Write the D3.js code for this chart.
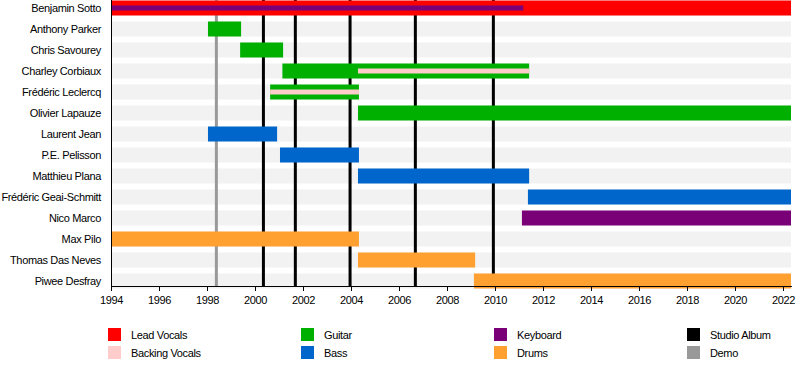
<!DOCTYPE html>
<html lang="en"><head>
<meta charset="utf-8">
<title>Band timeline</title>
<script src="https://d3js.org/d3.v7.min.js"></script>
<style>
  body { margin: 0; background: #fff; }
  svg text { font-family: "Liberation Sans", Arial, sans-serif; font-size: 11px; fill: #000; letter-spacing: -0.35px; }
  .axis path, .axis line { stroke: #000; shape-rendering: crispEdges; }
</style>
<script>
  const members = ["Benjamin Sotto", "Anthony Parker", "Chris Savourey", "Charley Corbiaux",
    "Frédéric Leclercq", "Olivier Lapauze", "Laurent Jean", "P.E. Pelisson", "Matthieu Plana",
    "Frédéric Geai-Schmitt", "Nico Marco", "Max Pilo", "Thomas Das Neves", "Piwee Desfray"];

  const roles = ["Lead Vocals", "Backing Vocals", "Guitar", "Bass", "Keyboard", "Drums", "Studio Album", "Demo"];

  const endYear = 2022.33;

  // [member, role, from, to]
  const periods = [
    ["Benjamin Sotto", "Lead Vocals", 1994, endYear],
    ["Anthony Parker", "Guitar", 1998.04, 1999.42],
    ["Chris Savourey", "Guitar", 1999.38, 2001.17],
    ["Charley Corbiaux", "Guitar", 2001.14, 2011.42],
    ["Frédéric Leclercq", "Guitar", 2000.63, 2004.33],
    ["Olivier Lapauze", "Guitar", 2004.29, endYear],
    ["Laurent Jean", "Bass", 1998.04, 2000.92],
    ["P.E. Pelisson", "Bass", 2001.04, 2004.33],
    ["Matthieu Plana", "Bass", 2004.29, 2011.42],
    ["Frédéric Geai-Schmitt", "Bass", 2011.37, endYear],
    ["Nico Marco", "Keyboard", 2011.12, endYear],
    ["Max Pilo", "Drums", 1994, 2004.33],
    ["Thomas Das Neves", "Drums", 2004.29, 2009.17],
    ["Piwee Desfray", "Drums", 2009.12, endYear]
  ];

  // secondary roles drawn as thin stripes inside the bars
  const secondary = [
    ["Benjamin Sotto", "Keyboard", 1994, 2011.18],
    ["Charley Corbiaux", "Backing Vocals", 2004.29, 2011.42],
    ["Frédéric Leclercq", "Backing Vocals", 2000.63, 2004.33]
  ];

  const studioAlbums = [2000.35, 2001.68, 2003.96, 2006.68, 2009.93];
  const demos = [1998.39];
  const yearTicks = d3.range(1994, 2023, 2);

  const roleColor = {
    "Lead Vocals": "#ff0000", "Backing Vocals": "#ffcccc", "Guitar": "#00b000",
    "Bass": "#0066cc", "Keyboard": "#7a0078", "Drums": "#ffa030",
    "Studio Album": "#000000", "Demo": "#999999"
  };

  const width = 800, height = 376;
  const left = 111, right = 791, axisY = 286;
</script>
</head>
<body>
<script>
  const svg = d3.select("body").append("svg")
    .attr("width", width).attr("height", height);

  const x = d3.scaleLinear().domain([1994, endYear]).range([left, right]);
  const y = d3.scalePoint().domain(members).range([8, 281]);
  const barH = 15;

  // background row stripes
  svg.append("g").selectAll("rect")
    .data(members)
    .join("rect")
    .attr("x", left).attr("width", right - left)
    .attr("y", d => y(d) - barH / 2).attr("height", barH)
    .attr("fill", "#f2f2f2");

  // release lines
  const lines = studioAlbums.map(d => ["Studio Album", d]).concat(demos.map(d => ["Demo", d]));
  svg.append("g").selectAll("line")
    .data(lines)
    .join("line")
    .attr("x1", d => x(d[1])).attr("x2", d => x(d[1]))
    .attr("y1", 0).attr("y2", axisY)
    .attr("stroke", d => roleColor[d[0]])
    .attr("stroke-width", 3);

  // main bars
  svg.append("g").selectAll("rect")
    .data(periods)
    .join("rect")
    .attr("x", d => x(d[2])).attr("width", d => x(d[3]) - x(d[2]))
    .attr("y", d => y(d[0]) - barH / 2).attr("height", barH)
    .attr("fill", d => roleColor[d[1]]);

  // secondary stripes
  svg.append("g").selectAll("rect")
    .data(secondary)
    .join("rect")
    .attr("x", d => x(d[2])).attr("width", d => x(d[3]) - x(d[2]))
    .attr("y", d => y(d[0]) - 2.5).attr("height", 5)
    .attr("fill", d => roleColor[d[1]]);

  // member labels
  svg.append("g").selectAll("text")
    .data(members)
    .join("text")
    .attr("x", 101).attr("y", d => y(d))
    .attr("dy", "0.35em")
    .attr("text-anchor", "end")
    .text(d => d);

  // axes
  const xAxis = d3.axisBottom(x).tickValues(yearTicks).tickFormat(d3.format("d"))
    .tickSizeInner(5).tickSizeOuter(0).tickPadding(5);
  svg.append("g").attr("class", "axis")
    .attr("transform", "translate(0," + axisY + ")")
    .call(xAxis)
    .call(g => g.selectAll("text").attr("font-size", null).attr("font-family", null));

  svg.append("line")
    .attr("x1", left + 0.5).attr("x2", left + 0.5)
    .attr("y1", 0).attr("y2", axisY)
    .attr("stroke", "#000");

  // legend
  const legend = svg.append("g").selectAll("g")
    .data(roles)
    .join("g")
    .attr("transform", (d, i) => "translate(" + (108 + Math.floor(i / 2) * 193) + "," + (328 + (i % 2) * 18) + ")");
  legend.append("rect").attr("width", 13).attr("height", 13).attr("fill", d => roleColor[d]);
  legend.append("text").attr("x", 23).attr("y", 7).attr("dy", "0.35em").text(d => d);
</script>
</body></html>
